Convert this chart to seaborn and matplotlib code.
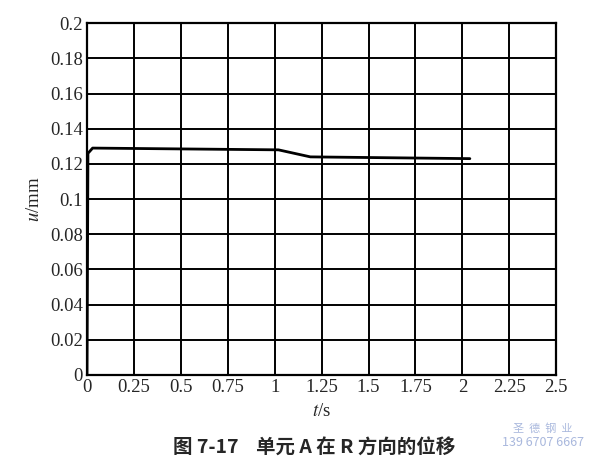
import matplotlib
matplotlib.use("Agg")
import pandas as pd
import seaborn as sns
from matplotlib import pyplot as plt

# values
t_s = [0.0, 0.005, 0.03, 1.02, 1.19, 2.04]
u_mm = [0.0, 0.126, 0.129, 0.128, 0.124, 0.123]

x_ticks = [0, 0.25, 0.5, 0.75, 1, 1.25, 1.5, 1.75, 2, 2.25, 2.5]
x_labels = ["0", "0.25", "0.5", "0.75", "1", "1.25", "1.5", "1.75", "2", "2.25", "2.5"]
y_ticks = [0, 0.02, 0.04, 0.06, 0.08, 0.1, 0.12, 0.14, 0.16, 0.18, 0.2]
y_labels = ["0", "0.02", "0.04", "0.06", "0.08", "0.1", "0.12", "0.14", "0.16", "0.18", "0.2"]

caption = "图 7-17    单元 A 在 R 方向的位移"

sns.set_style("white")
plt.rcParams["font.family"] = ["Liberation Serif", "DejaVu Serif"]
plt.rcParams["mathtext.fontset"] = "stix"

fig = plt.figure(figsize=(6.0, 4.74), dpi=100)
ax = fig.add_axes([0.145, 0.209, 0.782, 0.742])

data = pd.DataFrame({"t": t_s, "u": u_mm})
sns.lineplot(data=data, x="t", y="u", ax=ax, color="black", linewidth=2.0)

ax.set_xlim(0, 2.5)
ax.set_ylim(0, 0.2)
ax.set_xticks(x_ticks)
ax.set_xticklabels(x_labels, fontsize=13.5)
ax.set_yticks(y_ticks)
ax.set_yticklabels(y_labels, fontsize=13.5)
ax.tick_params(length=0, pad=3)
ax.grid(True, color="black", linewidth=1.4)
for side in ax.spines.values():
    side.set_color("black")
    side.set_linewidth(1.6)

ax.set_xlabel("$t$/s", fontsize=13.5, labelpad=5)
ax.set_ylabel("$u$/mm", fontsize=13.5, labelpad=5)

fig.text(0.524, 0.055, caption, ha="center", va="center", fontsize=14,
         fontweight="bold", family=["Noto Sans CJK SC", "DejaVu Sans"])

# faint watermark, bottom right
fig.text(0.905, 0.097, "圣  德  钢  业", ha="center", va="center", fontsize=8,
         color="#a9b8dd", family=["Noto Sans CJK SC", "DejaVu Sans"])
fig.text(0.905, 0.067, "139 6707 6667", ha="center", va="center", fontsize=9,
         color="#a9b8dd", family=["Noto Sans CJK SC", "DejaVu Sans"])

fig.savefig("out.png", dpi=100)
